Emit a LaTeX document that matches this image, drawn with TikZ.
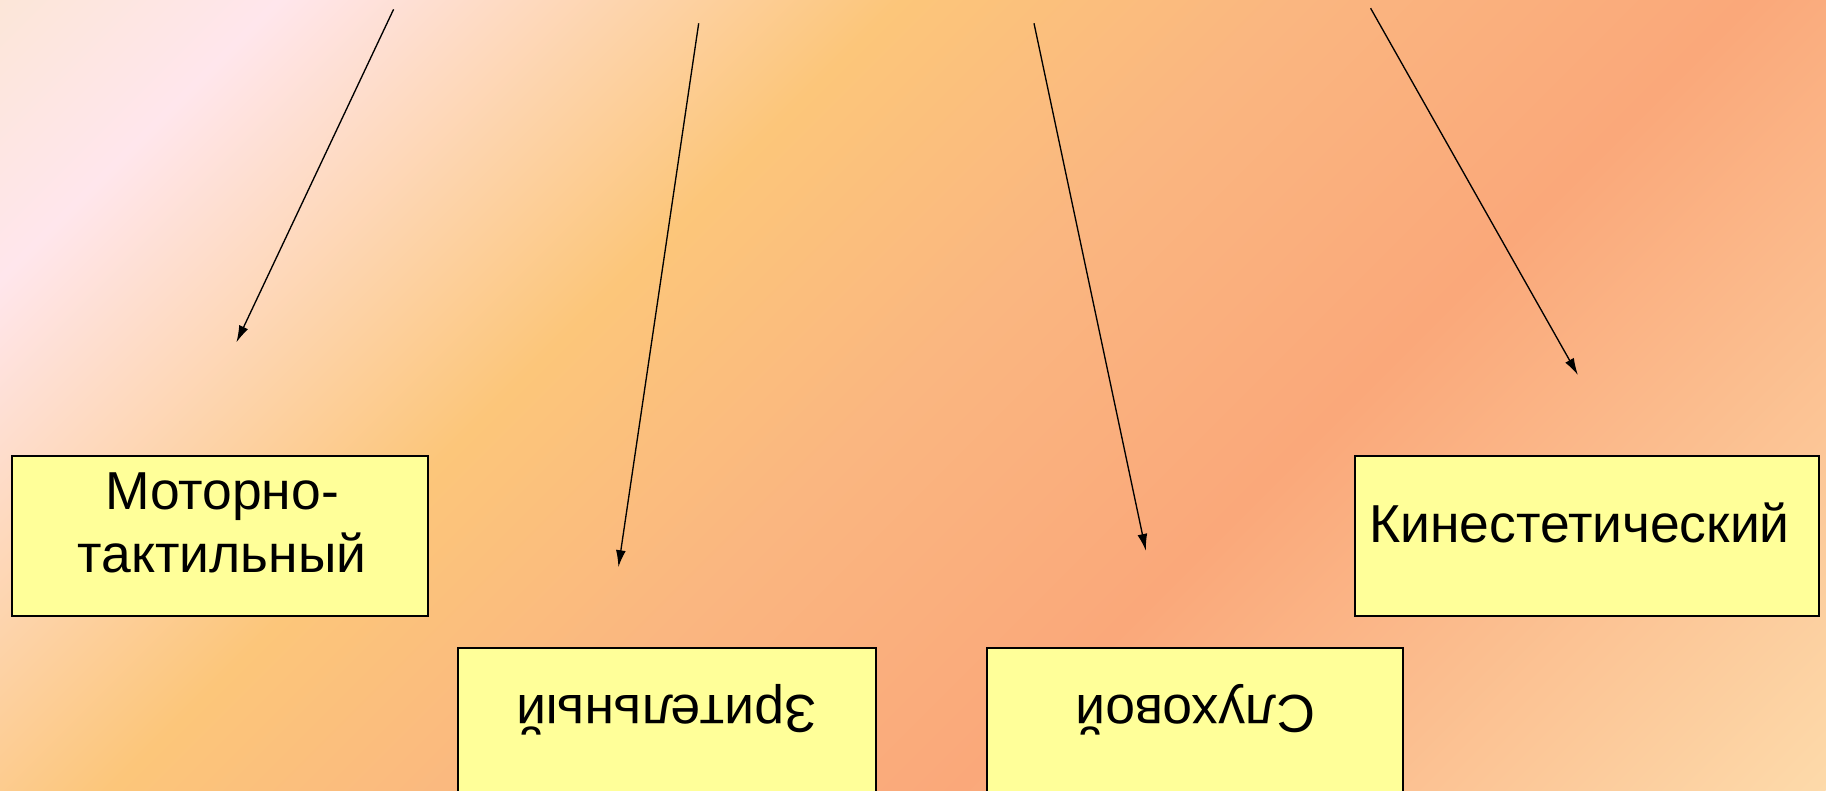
\documentclass[tikz,border=0pt]{standalone}
\usepackage{fontspec}
\setmainfont{Liberation Sans}
\usepackage{xcolor}
\usepackage{tikz}
\usetikzlibrary{arrows.meta}
\definecolor{bgA}{RGB}{252,230,216}
\definecolor{bgB}{RGB}{255,230,236}
\definecolor{bgC}{RGB}{252,198,122}
\definecolor{bgD}{RGB}{250,182,128}
\definecolor{bgE}{RGB}{250,168,122}
\definecolor{bgF}{RGB}{253,218,170}
\definecolor{boxfill}{RGB}{255,255,153}
\pgfdeclarehorizontalshading{bgglow}{100bp}{color(0bp)=(bgA); color(25bp)=(bgA); color(30.35bp)=(bgB); color(42.2bp)=(bgC); color(49.85bp)=(bgD); color(58.45bp)=(bgE); color(75bp)=(bgF); color(100bp)=(bgF)}
\tikzset{>=latex}
\tikzstyle{panel} = [draw = black, line width = 0.6pt, fill = boxfill, minimum width = 4.16cm, minimum height = 1.6cm, inner sep = 0]
\tikzstyle{word} = [draw = none, inner sep = 0, font = \fontsize{15.2pt}{17.9pt}\selectfont, align = center]
\tikzstyle{ray} = [-{Latex[length = 4.8pt, width = 2.8pt]}, draw = black, line width = 0.38pt]

\begin{document}
\begin{tikzpicture}
\useasboundingbox (0, 0) rectangle (18.26, 7.9);
\clip (0, 0) rectangle (18.26, 7.9);
% background
\begin{scope}[transform canvas = {rotate = -45}]
\shade [shading = bgglow] (-5.586, -0.1) rectangle (12.912, 18.6);
\end{scope}
% boxes
\node [panel] (M) at (2.2, 2.54) {};
\node [panel, minimum width = 4.18cm] (V) at (6.67, 0.62) {};
\node [panel] (S) at (11.95, 0.62) {};
\node [panel, minimum width = 4.64cm] (K) at (15.87, 2.54) {};
\node [word] (Mt) at (2.22, 2.675) {Моторно-\\тактильный};
\node [word, anchor = base, rotate = 180] (Vt) at (6.665, 0.95) {Зрительный};
\node [word, anchor = base, rotate = 180] (St) at (11.955, 0.95) {Слуховой};
\node [word, anchor = base] (Kt) at (15.795, 2.48) {Кинестетический};
% arrows
\coordinate (M0) at (3.936, 7.807);
\coordinate (M1) at (2.364, 4.476);
\coordinate (V0) at (6.987, 7.667);
\coordinate (V1) at (6.184, 2.229);
\coordinate (S0) at (10.34, 7.667);
\coordinate (S1) at (11.459, 2.392);
\coordinate (K0) at (13.706, 7.818);
\coordinate (K1) at (15.779, 4.15);
\draw [ray] (M0) to (M1);
\draw [ray] (V0) to (V1);
\draw [ray] (S0) to (S1);
\draw [ray] (K0) to (K1);
\end{tikzpicture}
\end{document}
